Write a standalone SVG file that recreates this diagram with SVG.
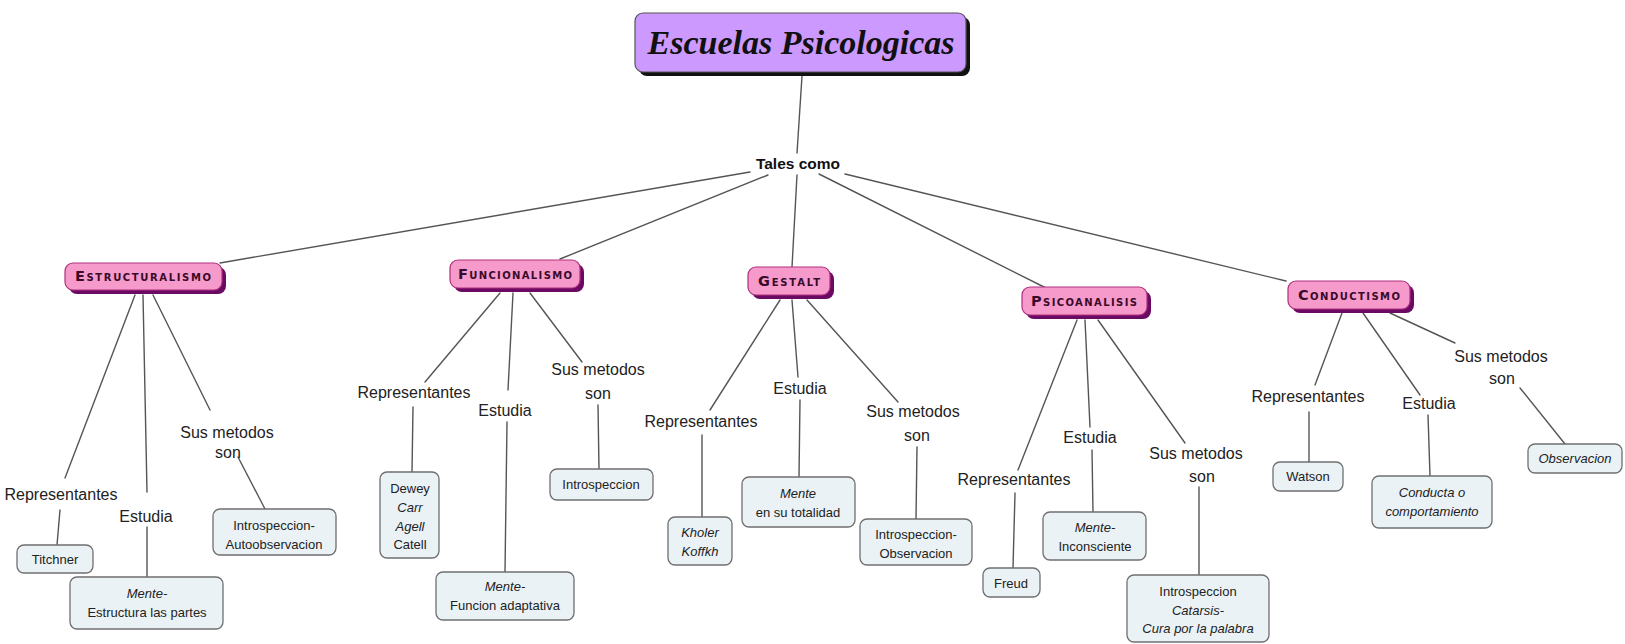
<svg xmlns="http://www.w3.org/2000/svg" width="1625" height="644" viewBox="0 0 1625 644">
<defs>
<style>
.bg{fill:#ffffff}
.ln{stroke:#555555;stroke-width:1.4;fill:none;stroke-linecap:round}
.title{fill:#cc99ff;stroke:#555555;stroke-width:1.2}
.tshadow{fill:#111111}
.school{fill:#f59acb;stroke:#b0307e;stroke-width:1.2}
.sshadow{fill:#6a0a62}
.leaf{fill:#eaf2f6;stroke:#6f6f6f;stroke-width:1.3}
.tt{font-family:"Liberation Serif","DejaVu Serif",serif;font-style:italic;font-weight:bold;font-size:34px;fill:#111111}
.hub{font-family:"Liberation Sans","DejaVu Sans",sans-serif;font-weight:bold;font-size:15.5px;fill:#111111;text-anchor:middle}
.sc{font-family:"DejaVu Sans","Liberation Sans",sans-serif;font-weight:bold;font-size:14.5px;font-variant:small-caps;fill:#3a0a2a;text-anchor:middle}
.lb{font-family:"Liberation Sans","DejaVu Sans",sans-serif;font-size:16px;fill:#222222;text-anchor:middle}
.lf{font-family:"Liberation Sans","DejaVu Sans",sans-serif;font-size:13px;fill:#222222;text-anchor:middle}
.it{font-style:italic}
</style>
</defs>
<rect class="bg" x="0" y="0" width="1625" height="644"/>

<g id="connectors">
<line class="ln" x1="802" y1="76" x2="797" y2="153"/>
<line class="ln" x1="750" y1="172" x2="220" y2="263"/>
<line class="ln" x1="768" y1="175" x2="560" y2="259"/>
<line class="ln" x1="797" y1="175" x2="792" y2="267"/>
<line class="ln" x1="819" y1="174" x2="1046" y2="288"/>
<line class="ln" x1="845" y1="174" x2="1286" y2="281"/>

<line class="ln" x1="135" y1="295" x2="65" y2="478"/>
<line class="ln" x1="143" y1="295" x2="147" y2="492"/>
<line class="ln" x1="153" y1="295" x2="210" y2="410"/>
<line class="ln" x1="60" y1="510" x2="57" y2="545"/>
<line class="ln" x1="147" y1="527" x2="147" y2="577"/>
<line class="ln" x1="238" y1="457" x2="265" y2="509"/>

<line class="ln" x1="500" y1="293" x2="425" y2="382"/>
<line class="ln" x1="513" y1="293" x2="508" y2="390"/>
<line class="ln" x1="530" y1="293" x2="582" y2="362"/>
<line class="ln" x1="413" y1="407" x2="412" y2="472"/>
<line class="ln" x1="507" y1="422" x2="505" y2="572"/>
<line class="ln" x1="598" y1="405" x2="599" y2="469"/>

<line class="ln" x1="780" y1="300" x2="710" y2="410"/>
<line class="ln" x1="792" y1="300" x2="798" y2="377"/>
<line class="ln" x1="807" y1="300" x2="898" y2="402"/>
<line class="ln" x1="702" y1="435" x2="702" y2="517"/>
<line class="ln" x1="800" y1="400" x2="799" y2="477"/>
<line class="ln" x1="917" y1="447" x2="916" y2="519"/>

<line class="ln" x1="1077" y1="320" x2="1018" y2="470"/>
<line class="ln" x1="1085" y1="320" x2="1090" y2="427"/>
<line class="ln" x1="1098" y1="320" x2="1185" y2="443"/>
<line class="ln" x1="1015" y1="493" x2="1013" y2="568"/>
<line class="ln" x1="1092" y1="450" x2="1093" y2="512"/>
<line class="ln" x1="1199" y1="487" x2="1199" y2="575"/>

<line class="ln" x1="1342" y1="313" x2="1315" y2="385"/>
<line class="ln" x1="1363" y1="313" x2="1420" y2="395"/>
<line class="ln" x1="1390" y1="313" x2="1455" y2="343"/>
<line class="ln" x1="1309" y1="412" x2="1309" y2="462"/>
<line class="ln" x1="1428" y1="415" x2="1430" y2="476"/>
<line class="ln" x1="1520" y1="388" x2="1565" y2="444"/>
</g>

<g id="title">
<rect class="tshadow" x="639" y="17" width="331" height="59" rx="8"/>
<rect class="title" x="635" y="13" width="331" height="59" rx="8"/>
<text class="tt" x="801" y="54" text-anchor="middle">Escuelas Psicologicas</text>
</g>

<g id="tales-como">
<text class="hub" x="798" y="169">Tales como</text>
</g>

<g id="estructuralismo">
<rect class="sshadow" x="69" y="267" width="157" height="27" rx="8"/>
<rect class="school" x="65" y="263" width="157" height="27" rx="8"/>
<text class="sc" x="143" y="281" textLength="136" lengthAdjust="spacing">Estructuralismo</text>
</g>
<g id="funcionalismo">
<rect class="sshadow" x="454" y="264" width="130" height="28" rx="8"/>
<rect class="school" x="450" y="260" width="130" height="28" rx="8"/>
<text class="sc" x="515" y="279" textLength="114" lengthAdjust="spacing">Funcionalismo</text>
</g>
<g id="gestalt">
<rect class="sshadow" x="752" y="271" width="82" height="28" rx="8"/>
<rect class="school" x="748" y="267" width="82" height="28" rx="8"/>
<text class="sc" x="789" y="286" textLength="62" lengthAdjust="spacing">Gestalt</text>
</g>
<g id="psicoanalisis">
<rect class="sshadow" x="1026" y="291" width="125" height="28" rx="8"/>
<rect class="school" x="1022" y="287" width="125" height="28" rx="8"/>
<text class="sc" x="1084" y="306" textLength="106" lengthAdjust="spacing">Psicoanalisis</text>
</g>
<g id="conductismo">
<rect class="sshadow" x="1292" y="285" width="122" height="28" rx="8"/>
<rect class="school" x="1288" y="281" width="122" height="28" rx="8"/>
<text class="sc" x="1349" y="300" textLength="102" lengthAdjust="spacing">Conductismo</text>
</g>

<g id="labels-estructuralismo">
<text class="lb" x="61" y="500">Representantes</text>
<text class="lb" x="146" y="522">Estudia</text>
<text class="lb" x="227" y="438">Sus metodos</text>
<text class="lb" x="228" y="458">son</text>
</g>
<g id="labels-funcionalismo">
<text class="lb" x="414" y="398">Representantes</text>
<text class="lb" x="505" y="416">Estudia</text>
<text class="lb" x="598" y="375">Sus metodos</text>
<text class="lb" x="598" y="399">son</text>
</g>
<g id="labels-gestalt">
<text class="lb" x="701" y="427">Representantes</text>
<text class="lb" x="800" y="394">Estudia</text>
<text class="lb" x="913" y="417">Sus metodos</text>
<text class="lb" x="917" y="441">son</text>
</g>
<g id="labels-psicoanalisis">
<text class="lb" x="1014" y="485">Representantes</text>
<text class="lb" x="1090" y="443">Estudia</text>
<text class="lb" x="1196" y="459">Sus metodos</text>
<text class="lb" x="1202" y="482">son</text>
</g>
<g id="labels-conductismo">
<text class="lb" x="1308" y="402">Representantes</text>
<text class="lb" x="1429" y="409">Estudia</text>
<text class="lb" x="1501" y="362">Sus metodos</text>
<text class="lb" x="1502" y="384">son</text>
</g>

<g id="titchner">
<rect class="leaf" x="17" y="545" width="76" height="28" rx="7"/>
<text class="lf" x="55" y="564">Titchner</text>
</g>
<g id="mente-estructura">
<rect class="leaf" x="70" y="577" width="153" height="52" rx="7"/>
<text class="lf it" x="147" y="598">Mente-</text>
<text class="lf" x="147" y="617">Estructura las partes</text>
</g>
<g id="introspeccion-autoobservacion">
<rect class="leaf" x="213" y="509" width="123" height="46" rx="7"/>
<text class="lf" x="274" y="530">Introspeccion-</text>
<text class="lf" x="274" y="549">Autoobservacion</text>
</g>

<g id="dewey">
<rect class="leaf" x="380" y="472" width="59" height="86" rx="7"/>
<text class="lf" x="410" y="493">Dewey</text>
<text class="lf it" x="410" y="512">Carr</text>
<text class="lf it" x="410" y="531">Agell</text>
<text class="lf" x="410" y="549">Catell</text>
</g>
<g id="mente-funcion">
<rect class="leaf" x="436" y="572" width="138" height="48" rx="7"/>
<text class="lf it" x="505" y="591">Mente-</text>
<text class="lf" x="505" y="610">Funcion adaptativa</text>
</g>
<g id="introspeccion-f">
<rect class="leaf" x="550" y="469" width="103" height="31" rx="7"/>
<text class="lf" x="601" y="489">Introspeccion</text>
</g>

<g id="kholer">
<rect class="leaf" x="668" y="517" width="64" height="48" rx="7"/>
<text class="lf it" x="700" y="537">Kholer</text>
<text class="lf it" x="700" y="556">Koffkh</text>
</g>
<g id="mente-totalidad">
<rect class="leaf" x="742" y="477" width="113" height="50" rx="7"/>
<text class="lf it" x="798" y="498">Mente</text>
<text class="lf" x="798" y="517">en su totalidad</text>
</g>
<g id="introspeccion-observacion">
<rect class="leaf" x="860" y="519" width="112" height="46" rx="7"/>
<text class="lf" x="916" y="539">Introspeccion-</text>
<text class="lf" x="916" y="558">Observacion</text>
</g>

<g id="freud">
<rect class="leaf" x="983" y="568" width="57" height="29" rx="7"/>
<text class="lf" x="1011" y="588">Freud</text>
</g>
<g id="mente-inconsciente">
<rect class="leaf" x="1043" y="512" width="103" height="48" rx="7"/>
<text class="lf it" x="1095" y="532">Mente-</text>
<text class="lf" x="1095" y="551">Inconsciente</text>
</g>
<g id="catarsis">
<rect class="leaf" x="1127" y="575" width="142" height="67" rx="7"/>
<text class="lf" x="1198" y="596">Introspeccion</text>
<text class="lf it" x="1198" y="615">Catarsis-</text>
<text class="lf it" x="1198" y="633">Cura por la palabra</text>
</g>

<g id="watson">
<rect class="leaf" x="1273" y="462" width="70" height="29" rx="7"/>
<text class="lf" x="1308" y="481">Watson</text>
</g>
<g id="conducta">
<rect class="leaf" x="1372" y="476" width="120" height="52" rx="7"/>
<text class="lf it" x="1432" y="497">Conducta o</text>
<text class="lf it" x="1432" y="516">comportamiento</text>
</g>
<g id="observacion">
<rect class="leaf" x="1528" y="444" width="94" height="29" rx="7"/>
<text class="lf it" x="1575" y="463">Observacion</text>
</g>
</svg>
